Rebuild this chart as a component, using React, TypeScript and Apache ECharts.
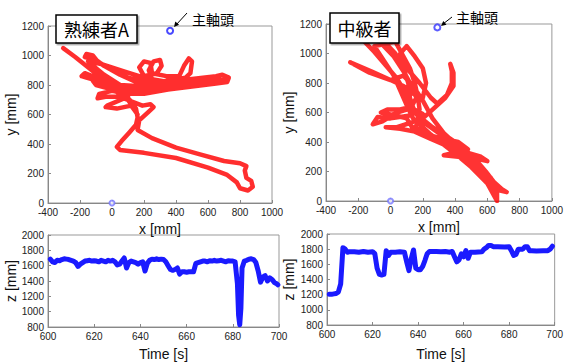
import React, { useEffect, useRef } from "react";
import * as echarts from "echarts";

// ---- data ----
const expertXY: number[][] = [
  [-305,1050],[-230,990],[-150,920],[-80,860],[0,800],[60,750],[110,700],[150,640],[160,580],[150,530],[110,480],[60,420],[30,380],[50,360],[200,340],[400,305],[600,240],[720,190],[780,140],[800,100],[850,85],[880,110],[870,150],[840,170],[830,220],[840,250],[800,270],[700,285],[550,330],[400,375],[250,440],[160,495],[170,560],[230,620],[260,650],[240,670],[190,660],[120,690],[50,720],[-40,720],[-90,710],[-80,740],[0,760],[100,740],[200,740],[350,770],[500,790],[650,810],[720,820],[730,850],[690,870],[650,860],[500,840],[350,820],[250,840],[230,900],[260,960],[300,970],[310,930],[280,880],[200,860],[170,920],[200,960],[240,950],[250,880],[340,860],[420,860],[450,930],[480,980],[500,960],[490,880],[460,850],[350,830],[250,810],[100,850],[0,900],[-90,960],[-120,1000],[-160,1010],[-170,990],[-140,980],[-100,970],[-50,930],[50,870],[150,820],[250,790],[120,780],[0,800],[-100,850],[-170,880],[-190,860],[-160,850],[-60,820],[50,760],[100,720],[-30,660],[-40,650],[30,640],[120,660],[160,600],
  [100,700],[20,760],[-60,800],[-120,830],[-100,800],[0,770],[150,760],[300,780],[500,810],[680,840],[710,830],[600,815],[400,800],[200,790],[50,800],[-50,870],[-130,940],[-150,960],[-60,940],[80,890],[200,850],[260,830]
];

const middleXY: number[][] = [
  [-170,1090],[-100,1010],[-30,920],[40,830],[90,740],[130,650],[170,580],[260,500],[360,430],[440,370],[520,290],[590,200],[640,130],[690,80],[720,60],[680,70],[630,120],[560,200],[480,290],[400,380],[300,460],[210,530],[150,600],[120,700],[110,800],[80,900],[30,1000],[-30,1070],[30,1080],[70,1000],[120,900],[150,800],[170,700],[180,620],[120,580],[0,560],[-80,570],[-110,520],[-50,540],[40,600],[130,630],[200,590],[150,540],[40,500],[-30,500],[60,490],[200,460],[330,420],[420,400],[480,350],[330,310],[420,300],[520,290],[600,270],[560,300],[470,330],[400,390],[330,460],[260,560],[200,680],[140,780],[80,850],[0,820],[-130,870],[-250,940],[-120,880],[0,820],[80,780],[150,720],[200,700],[220,800],[200,900],[150,980],[100,1050],[60,1000],[100,900],[180,800],[250,700],[290,660],[350,720],[380,800],[380,880],[370,930],[390,870],[390,780],[340,700],[260,620],[200,560],[150,500],[300,420],[450,330],[550,230],[620,160],[660,90],[660,0],[640,40],[600,120],[500,230],[380,340],[250,450],[140,560],
  [100,650],[60,750],[20,850],[-40,950],[-100,1050],[-50,1060],[20,980],[80,880],[130,780],[160,700],[130,640],[60,620],[-20,620],[-60,600],[30,580],[100,560],[150,470],[250,420],[400,350],[500,260],[580,170],[650,70]
];

const spindleExpert: number[][] = [[363, 1168]];
const spindleMiddle: number[][] = [[290, 1177]];
const origin: number[][] = [[0, 0]];

const timeExpert = [601,602,603,604,605,606,607,608,609,610,611,612,613,614,615,616,617,618,619,620,621,622,623,624,625,626,627,628,629,630,631,632,633,634,635,636,637,638,639,640,641,642,643,644,645,646,647,648,649,650,651,652,653,654,655,656,657,658,659,660,661,662,663,664,665,666,667,668,669,670,671,672,673,674,675,676,677,678,679,680,681,682,682.5,683,683.5,684,685,686,687,688,689,690,691,692,693,694,695,696,697,698,699,699.5];
const zExpert = [1685,1650,1640,1670,1665,1680,1690,1685,1680,1670,1660,1640,1590,1620,1640,1660,1665,1670,1660,1665,1660,1650,1670,1660,1650,1670,1660,1670,1650,1610,1620,1660,1700,1570,1640,1660,1650,1640,1620,1640,1650,1530,1630,1670,1685,1680,1690,1680,1685,1680,1650,1600,1550,1540,1550,1570,1490,1520,1520,1515,1520,1520,1520,1630,1640,1650,1660,1660,1650,1665,1660,1670,1660,1665,1670,1660,1650,1665,1660,1660,1650,1365,955,830,1040,1570,1660,1670,1685,1690,1680,1640,1530,1385,1450,1470,1400,1440,1420,1380,1365,1350];

const timeMiddle = [601,602,603,604,605,606,607,608,609,610,612,614,616,618,620,621,622,623,624,625,626,627,628,630,632,634,635,636,637,638,639,640,641,642,643,644,645,648,650,652,654,655,656,657,658,659,660,661,662,663,665,668,669,670,671,672,673,675,678,680,681,682,683,684,686,687,688,689,690,692,695,697,698,699];
const zMiddle = [1204,1204,1210,1215,1237,1340,1820,1800,1760,1767,1767,1760,1770,1760,1767,1740,1550,1467,1460,1467,1780,1717,1760,1760,1765,1760,1633,1517,1675,1790,1550,1530,1530,1570,1650,1740,1770,1770,1765,1770,1760,1770,1700,1633,1660,1737,1700,1780,1680,1760,1760,1765,1800,1820,1850,1850,1833,1833,1830,1833,1780,1717,1730,1800,1800,1833,1833,1780,1780,1775,1780,1780,1800,1840];

const xTicksTop = { min: -400, max: 1000, interval: 200 };
const yTicksTop = { min: 0, max: 1200, interval: 200 };
const tTicks = { min: 600, max: 700, interval: 20 };
const zTicks = { min: 800, max: 2000, interval: 200 };

const LABEL_FONT = "Liberation Sans, Arial, sans-serif";
const JP_FONT = "Noto Sans CJK JP, sans-serif";

function axisCommon(gridIndex: number, ticks: any, name: string, nameGap: number) {
  return {
    type: "value",
    gridIndex,
    min: ticks.min,
    max: ticks.max,
    interval: ticks.interval,
    name,
    nameLocation: "middle",
    nameGap,
    nameTextStyle: { fontSize: 14, color: "#111", fontFamily: LABEL_FONT },
    axisLine: { show: true, onZero: false, lineStyle: { color: "#888", width: 1 } },
    axisTick: { show: true, inside: true, length: 3, lineStyle: { color: "#888" } },
    axisLabel: { fontSize: 10, color: "#222", fontFamily: LABEL_FONT, margin: 4, formatter: (v: number) => String(v) },
    splitLine: { show: false },
  };
}

export default function App() {
  const ref = useRef<HTMLDivElement>(null);
  useEffect(() => {
    if (!ref.current) return;
    const chart = echarts.init(ref.current, null, { renderer: "svg" });
    const gridStyle = { show: true, borderColor: "#999", borderWidth: 1, backgroundColor: "#fff" };
    const circleStyle = (c: string, w: number) => ({ color: c, borderColor: c, borderWidth: w });
    const option: any = {
      animation: false,
      backgroundColor: "#fff",
      grid: [
        { left: 48, top: 26, width: 224, height: 177, ...gridStyle },
        { left: 326, top: 24, width: 226, height: 177, ...gridStyle },
        { left: 48, top: 235, width: 231, height: 98, ...gridStyle },
        { left: 327, top: 234, width: 233, height: 96, ...gridStyle },
      ],
      xAxis: [
        axisCommon(0, xTicksTop, "x [mm]", 19),
        axisCommon(1, xTicksTop, "x [mm]", 19),
        axisCommon(2, tTicks, "Time [s]", 20),
        axisCommon(3, tTicks, "Time [s]", 22),
      ],
      yAxis: [
        axisCommon(0, yTicksTop, "y [mm]", 30),
        axisCommon(1, yTicksTop, "y [mm]", 30),
        axisCommon(2, zTicks, "z [mm]", 30),
        axisCommon(3, zTicks, "z [mm]", 31),
      ],
      series: [
        {
          type: "line", xAxisIndex: 0, yAxisIndex: 0, data: expertXY, showSymbol: false,
          lineStyle: { color: "rgba(255,0,0,0.82)", width: 4.5, join: "round", cap: "round" }, z: 2,
        },
        {
          type: "line", xAxisIndex: 1, yAxisIndex: 1, data: middleXY, showSymbol: false,
          lineStyle: { color: "rgba(255,0,0,0.8)", width: 4.5, join: "round", cap: "round" }, z: 2,
        },
        {
          type: "scatter", xAxisIndex: 0, yAxisIndex: 0, data: spindleExpert, symbol: "emptyCircle",
          symbolSize: 6, itemStyle: circleStyle("#1a1aff", 2), z: 3, clip: false,
        },
        {
          type: "scatter", xAxisIndex: 1, yAxisIndex: 1, data: spindleMiddle, symbol: "emptyCircle",
          symbolSize: 6, itemStyle: circleStyle("#3333ff", 1.2), z: 3, clip: false,
        },
        {
          type: "scatter", xAxisIndex: 0, yAxisIndex: 0, data: origin, symbol: "emptyCircle",
          symbolSize: 5, itemStyle: circleStyle("#7777ff", 1), z: 3, clip: false,
        },
        {
          type: "scatter", xAxisIndex: 1, yAxisIndex: 1, data: origin, symbol: "emptyCircle",
          symbolSize: 5, itemStyle: circleStyle("#7777ff", 1), z: 3, clip: false,
        },
        {
          type: "line", xAxisIndex: 2, yAxisIndex: 2,
          data: timeExpert.map((t, i) => [t, zExpert[i]]), showSymbol: false,
          lineStyle: { color: "#1a1aff", width: 5, join: "round", cap: "round" },
        },
        {
          type: "line", xAxisIndex: 3, yAxisIndex: 3,
          data: timeMiddle.map((t, i) => [t, zMiddle[i]]), showSymbol: false,
          lineStyle: { color: "#1a1aff", width: 5, join: "round", cap: "round" },
        },
      ],
      graphic: [
        { type: "rect", shape: { x: 56, y: 15, width: 81, height: 28 }, style: { fill: "#fff", stroke: "#000", lineWidth: 1.5, shadowColor: "rgba(0,0,0,0.35)", shadowOffsetX: 1.5, shadowOffsetY: 1.5 }, z: 10 },
        { type: "text", x: 96.5, y: 29, style: { text: "熟練者A", font: `18px ${JP_FONT}`, fill: "#000", align: "center", verticalAlign: "middle" }, z: 11 },
        { type: "rect", shape: { x: 330, y: 13, width: 69, height: 30 }, style: { fill: "#fff", stroke: "#000", lineWidth: 1.5, shadowColor: "rgba(0,0,0,0.35)", shadowOffsetX: 1.5, shadowOffsetY: 1.5 }, z: 10 },
        { type: "text", x: 364.5, y: 28, style: { text: "中級者", font: `18px ${JP_FONT}`, fill: "#000", align: "center", verticalAlign: "middle" }, z: 11 },
        { type: "text", x: 192, y: 19, style: { text: "主軸頭", font: `14px ${JP_FONT}`, fill: "#000", align: "left", verticalAlign: "middle" }, z: 11 },
        { type: "line", shape: { x1: 187, y1: 13, x2: 176, y2: 25 }, style: { stroke: "#000", lineWidth: 1 }, z: 11 },
        { type: "polygon", shape: { points: [[174, 27], [179.1, 24.8], [175.3, 21.6]] }, style: { fill: "#000" }, z: 11 },
        { type: "text", x: 456, y: 17, style: { text: "主軸頭", font: `14px ${JP_FONT}`, fill: "#000", align: "left", verticalAlign: "middle" }, z: 11 },
        { type: "line", shape: { x1: 452, y1: 17, x2: 443, y2: 24 }, style: { stroke: "#000", lineWidth: 1 }, z: 11 },
        { type: "polygon", shape: { points: [[441, 26], [446.5, 24.8], [443.3, 20.9]] }, style: { fill: "#000" }, z: 11 },
      ],
    };
    chart.setOption(option);
    return () => chart.dispose();
  }, []);
  return (
    <div
      ref={ref}
      style={{ position: "fixed", left: 0, top: 0, width: 566, height: 362, background: "#fff" }}
    />
  );
}
